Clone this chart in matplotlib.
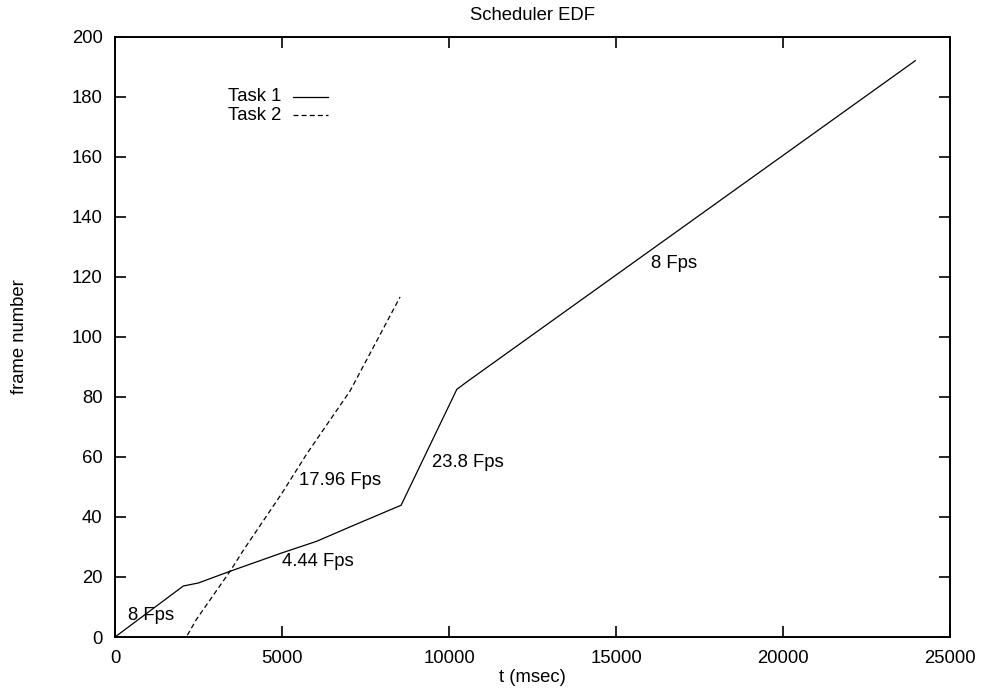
import matplotlib
matplotlib.use("Agg")
import matplotlib.pyplot as plt

plt.rcParams['font.family'] = ['Liberation Sans', 'DejaVu Sans']

# task 1: frame number over time (msec)
t1 = [0, 2045, 2494, 3443, 4990, 6038, 7036, 8563, 10230, 10530, 23952]
f1 = [0, 17, 18, 21.9, 28, 31.9, 36.7, 43.9, 82.5, 85, 192]

# task 2
t2 = [2165, 2445, 3443, 3842, 4990, 5739, 7036, 7635, 8533]
f2 = [0.6, 6, 21.9, 28.9, 47.8, 61, 82, 94.5, 113.3]

# rate annotations: text, x, y
notes = [("8 Fps", 390, 7.2),
         ("4.44 Fps", 4990, 25),
         ("17.96 Fps", 5510, 52),
         ("23.8 Fps", 9490, 58),
         ("8 Fps", 16050, 124.5)]

FS = 13.3

fig = plt.figure(figsize=(9.83, 6.9), dpi=100)
ax = fig.add_axes([0.117, 0.0768, 0.8497, 0.87])

ax.plot(t1, f1, color='black', lw=0.9)
ax.plot(t2, f2, color='black', lw=0.9, ls=(0, (4, 2.5)))

for txt, x, y in notes:
    ax.text(x, y, txt, fontsize=FS, va='center', ha='left')

ax.set_xlim(0, 25000)
ax.set_ylim(0, 200)
ax.set_xticks(range(0, 25001, 5000))
ax.set_yticks(range(0, 201, 20))
ax.tick_params(direction='in', length=8, width=1.2, labelsize=FS,
               top=True, right=True, pad=9)
for s in ax.spines.values():
    s.set_linewidth(1.4)

ax.set_title("Scheduler EDF", fontsize=FS, pad=12)
ax.set_xlabel("t (msec)", fontsize=FS, labelpad=2)
ax.set_ylabel("frame number", fontsize=FS, labelpad=31)

# legend drawn by hand, gnuplot style (label then sample)
ax.text(0.199, 0.900, "Task 1", transform=ax.transAxes, fontsize=FS,
        ha='right', va='center')
ax.text(0.199, 0.869, "Task 2", transform=ax.transAxes, fontsize=FS,
        ha='right', va='center')
ax.plot([0.213, 0.255], [0.900, 0.900], transform=ax.transAxes, color='black', lw=0.9)
ax.plot([0.213, 0.255], [0.869, 0.869], transform=ax.transAxes, color='black',
        lw=0.9, ls=(0, (4, 2.5)))

fig.savefig("out.png", dpi=100)
